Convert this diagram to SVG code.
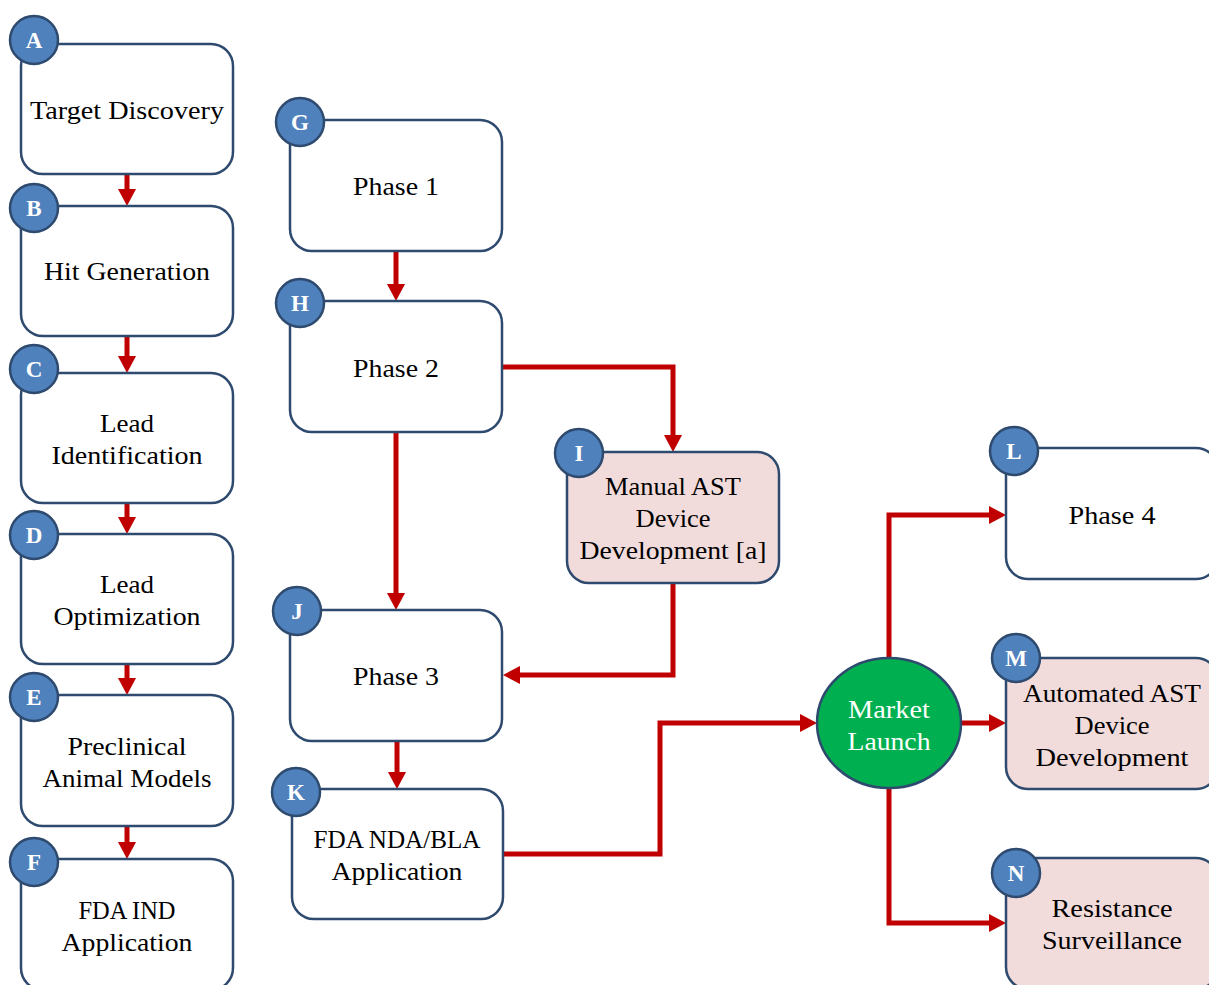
<svg xmlns="http://www.w3.org/2000/svg" width="1209" height="985" viewBox="0 0 1209 985">
<defs>
<style>
.box{fill:#ffffff;stroke:#2E4A6E;stroke-width:2.5}
.pink{fill:#F2DCDB;stroke:#2E4A6E;stroke-width:2.5}
.badge{fill:#4F81BD;stroke:#2E4A6E;stroke-width:2.5}
.bl{font-family:"Liberation Serif","DejaVu Serif",serif;font-weight:bold;font-size:23px;fill:#ffffff;text-anchor:middle}
.lbl{font-family:"Liberation Serif","DejaVu Serif",serif;font-size:26px;fill:#000000;text-anchor:middle}
.wl{font-family:"Liberation Serif","DejaVu Serif",serif;font-size:26px;fill:#ffffff;text-anchor:middle}
.con{fill:none;stroke:#C00000;stroke-width:5;stroke-linejoin:miter;marker-end:url(#ah)}
</style>
<marker id="ah" markerUnits="userSpaceOnUse" markerWidth="18" markerHeight="18" refX="0" refY="9" orient="auto" viewBox="0 0 18 18">
<path d="M0,0 L17,9 L0,18 Z" fill="#C00000"/>
</marker>
</defs>
<rect width="1209" height="985" fill="#ffffff"/>

<g id="connectors">
<path class="con" d="M127,174 V189"/>
<path class="con" d="M127,336 V356"/>
<path class="con" d="M127,503 V517"/>
<path class="con" d="M127,664 V678"/>
<path class="con" d="M127,826 V842"/>
<path class="con" d="M396,251 V284"/>
<path class="con" d="M502,367 H673 V435"/>
<path class="con" d="M396,432 V593"/>
<path class="con" d="M673,583 V675 H520"/>
<path class="con" d="M397,741 V772"/>
<path class="con" d="M503,854 H660 V723 H800"/>
<path class="con" d="M889,658 V515 H989"/>
<path class="con" d="M961,723 H989"/>
<path class="con" d="M889,788 V923 H989"/>
</g>

<g id="node-A">
<rect class="box" x="21" y="44" width="212" height="130" rx="22"/>
<circle class="badge" cx="34" cy="40" r="24"/>
<text class="bl" x="34" y="48">A</text>
<text class="lbl" x="127" y="119" textLength="194" lengthAdjust="spacingAndGlyphs">Target Discovery</text>
</g>
<g id="node-B">
<rect class="box" x="21" y="206" width="212" height="130" rx="22"/>
<circle class="badge" cx="34" cy="208" r="24"/>
<text class="bl" x="34" y="216">B</text>
<text class="lbl" x="127" y="280" textLength="166" lengthAdjust="spacingAndGlyphs">Hit Generation</text>
</g>
<g id="node-C">
<rect class="box" x="21" y="373" width="212" height="130" rx="22"/>
<circle class="badge" cx="34" cy="369" r="24"/>
<text class="bl" x="34" y="377">C</text>
<text class="lbl" x="127" y="432" textLength="54" lengthAdjust="spacingAndGlyphs">Lead</text>
<text class="lbl" x="127" y="464" textLength="151" lengthAdjust="spacingAndGlyphs">Identification</text>
</g>
<g id="node-D">
<rect class="box" x="21" y="534" width="212" height="130" rx="22"/>
<circle class="badge" cx="34" cy="535" r="24"/>
<text class="bl" x="34" y="543">D</text>
<text class="lbl" x="127" y="593" textLength="54" lengthAdjust="spacingAndGlyphs">Lead</text>
<text class="lbl" x="127" y="625" textLength="147" lengthAdjust="spacingAndGlyphs">Optimization</text>
</g>
<g id="node-E">
<rect class="box" x="21" y="695" width="212" height="131" rx="22"/>
<circle class="badge" cx="34" cy="697" r="24"/>
<text class="bl" x="34" y="705">E</text>
<text class="lbl" x="127" y="755" textLength="119" lengthAdjust="spacingAndGlyphs">Preclinical</text>
<text class="lbl" x="127" y="787" textLength="169" lengthAdjust="spacingAndGlyphs">Animal Models</text>
</g>
<g id="node-F">
<rect class="box" x="21" y="859" width="212" height="131" rx="22"/>
<circle class="badge" cx="34" cy="862" r="24"/>
<text class="bl" x="34" y="870">F</text>
<text class="lbl" x="127" y="919" textLength="97" lengthAdjust="spacingAndGlyphs">FDA IND</text>
<text class="lbl" x="127" y="951" textLength="131" lengthAdjust="spacingAndGlyphs">Application</text>
</g>

<g id="node-G">
<rect class="box" x="290" y="120" width="212" height="131" rx="22"/>
<circle class="badge" cx="300" cy="122" r="24"/>
<text class="bl" x="300" y="130">G</text>
<text class="lbl" x="396" y="195" textLength="86" lengthAdjust="spacingAndGlyphs">Phase 1</text>
</g>
<g id="node-H">
<rect class="box" x="290" y="301" width="212" height="131" rx="22"/>
<circle class="badge" cx="300" cy="303" r="24"/>
<text class="bl" x="300" y="311">H</text>
<text class="lbl" x="396" y="377" textLength="86" lengthAdjust="spacingAndGlyphs">Phase 2</text>
</g>
<g id="node-I">
<rect class="pink" x="567" y="452" width="212" height="131" rx="22"/>
<circle class="badge" cx="579" cy="453" r="24"/>
<text class="bl" x="579" y="461">I</text>
<text class="lbl" x="673" y="495" textLength="136" lengthAdjust="spacingAndGlyphs">Manual AST</text>
<text class="lbl" x="673" y="527" textLength="75" lengthAdjust="spacingAndGlyphs">Device</text>
<text class="lbl" x="673" y="559" textLength="187" lengthAdjust="spacingAndGlyphs">Development [a]</text>
</g>
<g id="node-J">
<rect class="box" x="290" y="610" width="212" height="131" rx="22"/>
<circle class="badge" cx="297" cy="611" r="24"/>
<text class="bl" x="297" y="619">J</text>
<text class="lbl" x="396" y="685" textLength="86" lengthAdjust="spacingAndGlyphs">Phase 3</text>
</g>
<g id="node-K">
<rect class="box" x="292" y="789" width="211" height="130" rx="22"/>
<circle class="badge" cx="296" cy="792" r="24"/>
<text class="bl" x="296" y="800">K</text>
<text class="lbl" x="397" y="848" textLength="167" lengthAdjust="spacingAndGlyphs">FDA NDA/BLA</text>
<text class="lbl" x="397" y="880" textLength="131" lengthAdjust="spacingAndGlyphs">Application</text>
</g>

<g id="node-Market">
<ellipse cx="889" cy="723" rx="72" ry="65" fill="#00B050" stroke="#2E4A6E" stroke-width="2.5"/>
<text class="wl" x="889" y="718" textLength="82" lengthAdjust="spacingAndGlyphs">Market</text>
<text class="wl" x="889" y="750" textLength="83" lengthAdjust="spacingAndGlyphs">Launch</text>
</g>

<g id="node-L">
<rect class="box" x="1006" y="448" width="212" height="131" rx="22"/>
<circle class="badge" cx="1014" cy="451" r="24"/>
<text class="bl" x="1014" y="459">L</text>
<text class="lbl" x="1112" y="524" textLength="87" lengthAdjust="spacingAndGlyphs">Phase 4</text>
</g>
<g id="node-M">
<rect class="pink" x="1006" y="658" width="212" height="131" rx="22"/>
<circle class="badge" cx="1016" cy="658" r="24"/>
<text class="bl" x="1016" y="666">M</text>
<text class="lbl" x="1112" y="702" textLength="178" lengthAdjust="spacingAndGlyphs">Automated AST</text>
<text class="lbl" x="1112" y="734" textLength="75" lengthAdjust="spacingAndGlyphs">Device</text>
<text class="lbl" x="1112" y="766" textLength="153" lengthAdjust="spacingAndGlyphs">Development</text>
</g>
<g id="node-N">
<rect class="pink" x="1006" y="858" width="212" height="131" rx="22"/>
<circle class="badge" cx="1016" cy="873" r="24"/>
<text class="bl" x="1016" y="881">N</text>
<text class="lbl" x="1112" y="917" textLength="121" lengthAdjust="spacingAndGlyphs">Resistance</text>
<text class="lbl" x="1112" y="949" textLength="140" lengthAdjust="spacingAndGlyphs">Surveillance</text>
</g>
</svg>
